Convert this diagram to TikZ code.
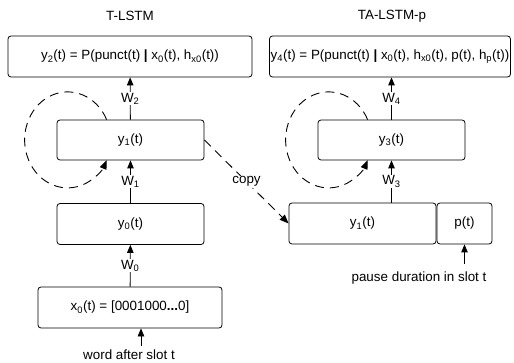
\documentclass[tikz,border=0pt]{standalone}
\usepackage{fontspec}
\setmainfont{Liberation Sans}
\usetikzlibrary{calc}
\usetikzlibrary{arrows.meta}

\begin{document}
\begin{tikzpicture}[x=1pt,y=-1pt,
  every node/.style={font=\fontsize{13.4}{16}\selectfont},
  unit/.style={draw,rounded corners=3pt,line width=0.8pt,inner sep=0pt},
  arr/.style={line width=0.8pt,-{Triangle[length=8pt,width=6.5pt]}},
  wlab/.style={fill=white,inner sep=1pt},
  loopy/.style={line width=0.9pt,dash pattern=on 9pt off 6pt,-{Triangle[length=9pt,width=7pt]}}]
\useasboundingbox (0,0) rectangle (514,363);
\node (tl) at (130,16) {T-LSTM};
\node (tr) at (392,16) {TA-LSTM-p};
\node[unit,minimum width=244pt,minimum height=41pt] (y2) at (130,56.5) {y\textsubscript{2}(t) = P(punct(t) \textbf{|} x\textsubscript{0}(t), h\textsubscript{x0}(t))};
\node[unit,minimum width=147pt,minimum height=40pt] (y1) at (130.5,140) {y\textsubscript{1}(t)};
\node[unit,minimum width=147pt,minimum height=41pt] (y0) at (130.5,224) {y\textsubscript{0}(t)};
\node[unit,minimum width=184pt,minimum height=41pt] (x0) at (130,307.5) {x\textsubscript{0}(t) = [0001000\textbf{...}0]};
\node (word) at (129,355) {word after slot t};
\node[unit,minimum width=241pt,minimum height=41pt] (y4) at (390,56.5) {y\textsubscript{4}(t) = P(punct(t) \textbf{|} x\textsubscript{0}(t), h\textsubscript{x0}(t), p(t), h\textsubscript{p}(t))};
\node[unit,minimum width=147pt,minimum height=40pt] (y3) at (391.5,140) {y\textsubscript{3}(t)};
\node[unit,minimum width=147pt,minimum height=41pt] (y1c) at (362.5,223.5) {y\textsubscript{1}(t)};
\node[unit,minimum width=55pt,minimum height=41pt] (pt) at (464.5,223.5) {p(t)};
\node (pause) at (419,278) {pause duration in slot t};
\coordinate (win) at (141,346);
\coordinate (pin) at (464.5,264);
\draw[arr] (y1) -- node[wlab] {W\textsubscript{2}} (y2);
\draw[arr] (y0) -- node[wlab] {W\textsubscript{1}} (y1);
\draw[arr] (x0) -- node[wlab] {W\textsubscript{0}} (y0);
\draw[arr] (win) -- (win |- x0.south);
\draw[arr] (y3) -- node[wlab] {W\textsubscript{4}} (y4.south -| y3);
\draw[arr] (y1c.north -| y3) -- node[wlab] {W\textsubscript{3}} (y3);
\draw[arr] (pin) -- (pt.south);
\draw[loopy] (y1.east) -- node[wlab] {copy} (y1c.west);
\draw[loopy] ($(y1.north west)+(50,0)$) arc[start angle=25,end angle=335,x radius=43pt,y radius=48pt];
\draw[loopy] ($(y3.north west)+(50,0)$) arc[start angle=25,end angle=335,x radius=43pt,y radius=48pt];
\end{tikzpicture}
\end{document}
